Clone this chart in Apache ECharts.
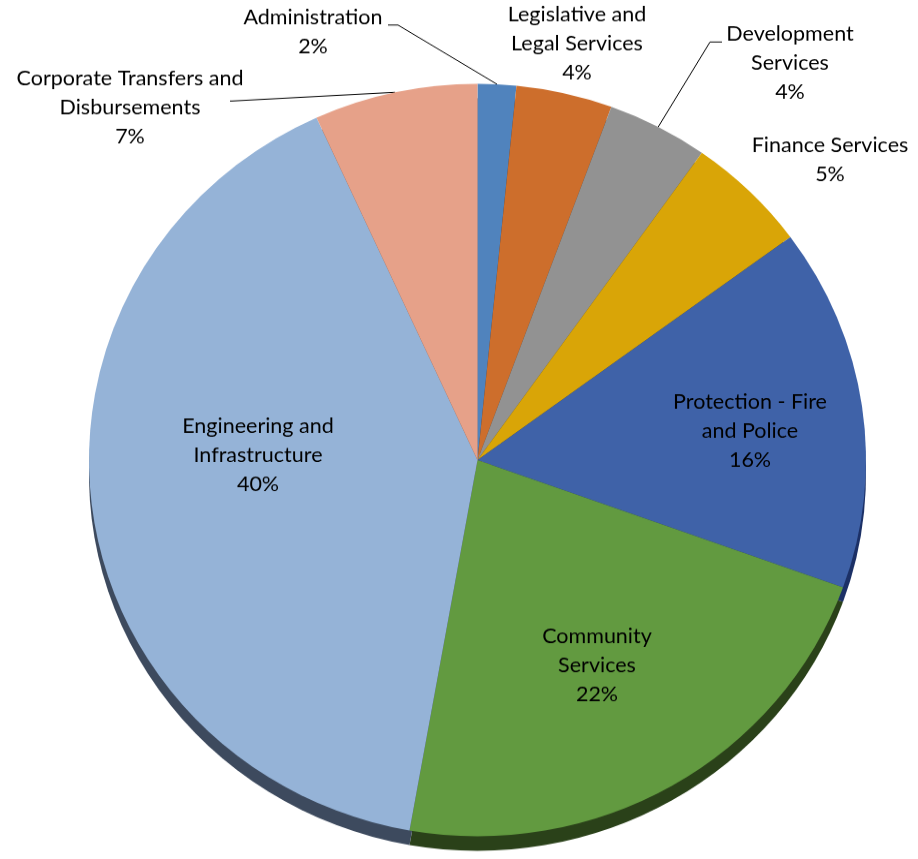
<!DOCTYPE html>
<html>
<head>
<meta charset="utf-8">
<script src="https://cdn.jsdelivr.net/npm/echarts@6/dist/echarts.min.js"></script>
<style>
html,body{margin:0;padding:0;background:#fff;overflow:hidden;}
#wrap{width:918px;height:859px;overflow:hidden;}
#chart{width:918px;height:887px;transform:scaleY(0.9685);transform-origin:0 0;}
</style>
</head>
<body>
<div id="wrap"><div id="chart"></div></div>
<script>
// ---- data ----
const categories = [
  'Administration',
  'Legislative and\nLegal Services',
  'Development\nServices',
  'Finance Services',
  'Protection - Fire\nand Police',
  'Community\nServices',
  'Engineering and\nInfrastructure',
  'Corporate Transfers and\nDisbursements'
];
const values = [1.6, 4.0, 4.2, 5.1, 15.6, 22.3, 40.4, 6.8];

// ---- styles ----
const topColors  = ['#5083bd', '#cd6e2c', '#929292', '#d9a507', '#3f62a8', '#629a40', '#95b3d7', '#e6a189'];
const sideColors = ['#263f5e', '#663716', '#494949', '#6c5203', '#1c3066', '#2a4119', '#3d4a5e', '#735044'];
const hasLeader  = [true, false, true, false, false, false, false, true];
// label centres in page pixels
const labelPos = [[313,32],[577,44],[790,63],[830,160],[750,431],[597,665],[258,455],[130,108]];
// leader line elbows in page pixels
const leaderPts = {0: [[398,25],[388,25]], 2: [[710,42],[722,42]], 7: [[232,101],[230,101]]};

const S = 0.9685; // vertical squash of the pie (ellipse)
const chart = echarts.init(document.getElementById('chart'), null, {renderer:'canvas'});

const frontData = categories.map((c, i) => ({
  name: c, value: values[i],
  itemStyle: {color: topColors[i]},
  labelLine: {show: hasLeader[i]}
}));
const backData = categories.map((c, i) => ({
  name: c, value: values[i], itemStyle: {color: sideColors[i]}
}));

const cx = 477.5, cy = 460 / S, R = 388.5;

chart.setOption({
  animation: false,
  textStyle: {fontFamily: 'Lato'},
  series: [
    {
      type: 'pie', silent: true, z: 1,
      center: [cx, cy + 15], radius: R,
      startAngle: 90, clockwise: true,
      label: {show: false}, labelLine: {show: false},
      data: backData
    },
    {
      type: 'pie', z: 2,
      center: [cx, cy], radius: R,
      startAngle: 90, clockwise: true,
      percentPrecision: 0,
      avoidLabelOverlap: false,
      itemStyle: {borderWidth: 0},
      label: {
        show: true, position: 'outside',
        formatter: '{b}\n{d}%',
        color: '#000', fontSize: 21.5, lineHeight: 30,
        fontFamily: 'Lato', align: 'center'
      },
      labelLine: {lineStyle: {color: '#000', width: 1}, length: 10, length2: 10},
      labelLayout: function (params) {
        const i = params.dataIndex;
        const p = labelPos[i];
        const out = {x: p[0], y: p[1] / S, align: 'center', verticalAlign: 'middle'};
        if (hasLeader[i] && params.labelLinePoints) {
          const start = params.labelLinePoints[0];
          const pts = leaderPts[i].map(q => [q[0], q[1] / S]);
          out.labelLinePoints = [start, pts[0], pts[1]];
        }
        return out;
      },
      data: frontData
    }
  ]
});
</script>
</body>
</html>
